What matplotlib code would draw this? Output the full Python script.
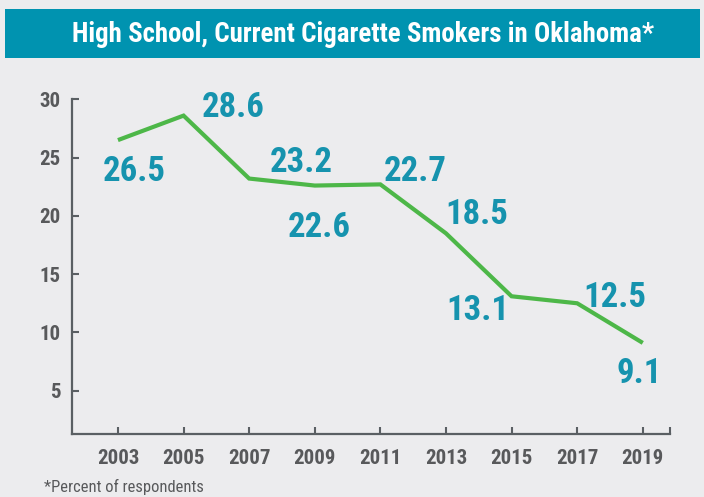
import matplotlib
matplotlib.use("Agg")
import matplotlib.pyplot as plt
from matplotlib.patches import Rectangle

years = [2003, 2005, 2007, 2009, 2011, 2013, 2015, 2017, 2019]
values = [26.5, 28.6, 23.2, 22.6, 22.7, 18.5, 13.1, 12.5, 9.1]
labels = ["26.5", "28.6", "23.2", "22.6", "22.7", "18.5", "13.1", "12.5", "9.1"]
yticks = [5, 10, 15, 20, 25, 30]
title = "High School, Current Cigarette Smokers in Oklahoma*"
footnote = "*Percent of respondents"

# label offsets in pixels (dx right, dy down)
offsets_px = [(16, 28), (50, -12), (52, -20), (4, 38), (35, -16),
              (31, -22), (-34, 11), (38, -9), (-4, 27)]

FONT = ['Roboto Condensed', 'DejaVu Sans']
BG = '#ECECEE'
TEAL_BAR = '#0093B0'
TEAL_TXT = '#1693AE'
GRAY = '#58595B'
AXC = '#5A5F63'
GREEN = '#4DB748'

plt.rcParams['font.family'] = FONT

W, H = 704, 497
fig = plt.figure(figsize=(W / 100, H / 100), dpi=100, facecolor=BG)

# title bar
fig.patches.append(Rectangle((5 / W, 1 - 58.5 / H), 695 / W, 49.5 / H,
                             transform=fig.transFigure, facecolor=TEAL_BAR,
                             edgecolor='none', zorder=0))
t = fig.text(71.7 / W, 1 - 41.7 / H, title, color='white', fontsize=20,
             fontweight='bold', ha='left', va='baseline')
fig.canvas.draw()
bb = t.get_window_extent()
t.set_fontsize(20 * 580 / bb.width)

ax = fig.add_axes([71.7 / W, 63 / H, (670 - 71.7) / W, (434 - 99.3) / H])
ax.set_facecolor(BG)
ax.plot(years, values, color=GREEN, lw=3, solid_joinstyle='miter',
        solid_capstyle='butt', zorder=3)

for x, y, lab, (dx, dy) in zip(years, values, labels, offsets_px):
    ax.annotate(lab, (x, y), xytext=(dx * 0.72, -dy * 0.72),
                textcoords='offset points', ha='center', va='center_baseline',
                color=TEAL_TXT, fontsize=25, fontweight='bold')

ax.set_xlim(2001.59, 2019.83)
ax.set_ylim(1.285, 30)
ax.set_xticks(years)
ax.set_xticklabels([str(y) for y in years])
ax.set_xticks([2019.83], minor=True)
ax.set_yticks(yticks)
ax.set_yticklabels([str(v) for v in yticks])

for s in ['top', 'right']:
    ax.spines[s].set_visible(False)
for s in ['left', 'bottom']:
    ax.spines[s].set_color(AXC)
    ax.spines[s].set_linewidth(1.6)

ax.tick_params(axis='x', which='both', direction='in', length=5, width=1.5,
               color=AXC, pad=11)
ax.tick_params(axis='y', direction='in', length=5, width=1.5, color=AXC, pad=8)
for lab in ax.get_xticklabels() + ax.get_yticklabels():
    lab.set_color(GRAY)
    lab.set_fontsize(15)
    lab.set_fontweight('bold')

ft = fig.text(44 / W, 1 - 487 / H, footnote, color=GRAY, fontsize=12.5,
              ha='left', va='center')
fig.canvas.draw()
fb = ft.get_window_extent()
ft.set_fontsize(12.5 * 160 / fb.width)

fig.savefig('out.png', dpi=100, facecolor=BG)
